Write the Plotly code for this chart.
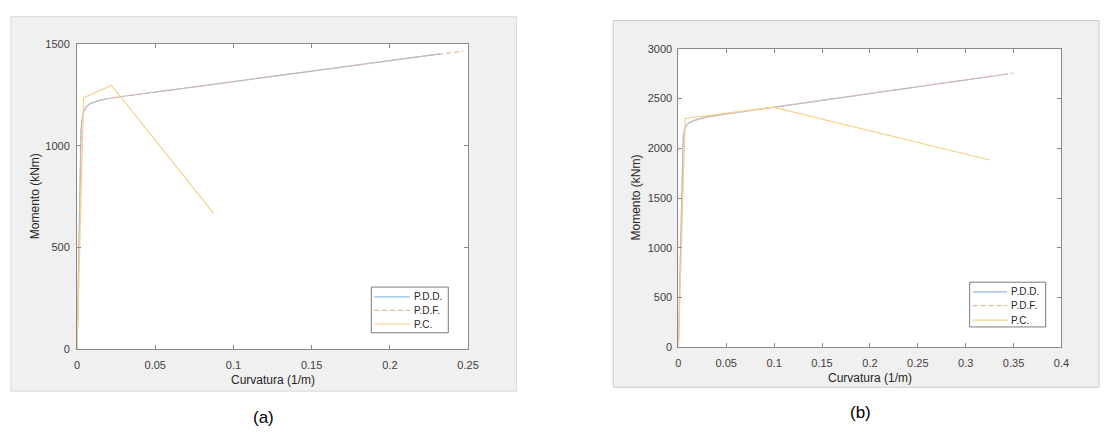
import plotly.graph_objects as go

# Moment-curvature curves, panel (a)
curv_pdd_a = [0, 0.0005, 0.001, 0.0015, 0.002, 0.0025, 0.003, 0.004, 0.005, 0.006,
              0.008, 0.010, 0.015, 0.02, 0.03, 0.05, 0.1, 0.15, 0.2, 0.232]
mom_pdd_a = [0, 230, 460, 690, 920, 1060, 1120, 1160, 1180, 1192,
             1205, 1212, 1224, 1232, 1243, 1264, 1315, 1366, 1418, 1451]
curv_pdf_a = [0, 0.0005, 0.001, 0.0015, 0.002, 0.0025, 0.003, 0.004, 0.005, 0.006,
              0.008, 0.010, 0.015, 0.02, 0.03, 0.05, 0.1, 0.15, 0.2, 0.247]
mom_pdf_a = [0, 230, 460, 690, 920, 1060, 1120, 1160, 1180, 1192,
             1205, 1212, 1224, 1232, 1243, 1264, 1315, 1366, 1418, 1465]
curv_pc_a = [0, 0.0042, 0.0221, 0.0873]
mom_pc_a = [0, 1236, 1296, 668]

# Moment-curvature curves, panel (b)
curv_pdd_b = [0, 0.001, 0.002, 0.003, 0.004, 0.005, 0.006, 0.008, 0.010, 0.015,
              0.02, 0.03, 0.05, 0.1, 0.15, 0.2, 0.25, 0.3, 0.344]
mom_pdd_b = [0, 450, 900, 1340, 1800, 2100, 2180, 2225, 2250, 2275,
             2290, 2315, 2345, 2414, 2482, 2550, 2619, 2687, 2747]
curv_pdf_b = [0, 0.001, 0.002, 0.003, 0.004, 0.005, 0.006, 0.008, 0.010, 0.015,
              0.02, 0.03, 0.05, 0.1, 0.15, 0.2, 0.25, 0.3, 0.350]
mom_pdf_b = [0, 450, 900, 1340, 1800, 2100, 2180, 2225, 2250, 2275,
             2290, 2315, 2345, 2414, 2482, 2550, 2619, 2687, 2756]
curv_pc_b = [0, 0.0072, 0.099, 0.325]
mom_pc_b = [0, 2300, 2414, 1883]

series_names = ["P.D.D.", "P.D.F.", "P.C."]

xticks_a = [0, 0.05, 0.1, 0.15, 0.2, 0.25]
xticklabels_a = ["0", "0.05", "0.1", "0.15", "0.2", "0.25"]
yticks_a = [0, 500, 1000, 1500]
xticks_b = [0, 0.05, 0.1, 0.15, 0.2, 0.25, 0.3, 0.35, 0.4]
xticklabels_b = ["0", "0.05", "0.1", "0.15", "0.2", "0.25", "0.3", "0.35", "0.4"]
yticks_b = [0, 500, 1000, 1500, 2000, 2500, 3000]

W, H = 1109, 437
C_BLUE = "#94bde3"
C_ORANGE = "#eeb39b"
C_YELLOW = "#f6d189"
SERIES_STYLE = [
    dict(color=C_BLUE, width=1.2),
    dict(color=C_ORANGE, width=1.2, dash="5px,3px"),
    dict(color=C_YELLOW, width=1.2),
]
FONT = "Liberation Sans, Arial, sans-serif"
TICK_COLOR = "#404040"
FRAME = "#8a8a8a"


def px(x):
    return x / W


def py(y):
    return 1 - y / H


fig = go.Figure()

panels = [
    ((curv_pdd_a, mom_pdd_a), (curv_pdf_a, mom_pdf_a), (curv_pc_a, mom_pc_a), "x", "y"),
    ((curv_pdd_b, mom_pdd_b), (curv_pdf_b, mom_pdf_b), (curv_pc_b, mom_pc_b), "x2", "y2"),
]
for d, f, c, xa, ya in panels:
    for (cx, my), name, style in zip((d, f, c), series_names, SERIES_STYLE):
        fig.add_trace(go.Scatter(x=cx, y=my, mode="lines", name=name, line=style,
                                 xaxis=xa, yaxis=ya, showlegend=False))

axis_common = dict(
    showline=True, linecolor=FRAME, linewidth=1, mirror="ticks",
    ticks="inside", ticklen=4, tickcolor=FRAME, tickwidth=1,
    showgrid=False, zeroline=False,
    tickfont=dict(family=FONT, size=11, color=TICK_COLOR),
)

fig.update_layout(
    width=W, height=H,
    margin=dict(l=0, r=0, t=0, b=0),
    paper_bgcolor="white", plot_bgcolor="white",
    xaxis=dict(domain=[px(75), px(471)], range=[0, 0.25], tickvals=xticks_a,
               ticktext=xticklabels_a, anchor="y", ticklabelstandoff=5, **axis_common),
    yaxis=dict(domain=[py(353), py(39)], range=[0, 1500], tickvals=yticks_a,
               anchor="x", ticklabelstandoff=4, **axis_common),
    xaxis2=dict(domain=[px(684), px(1072)], range=[0, 0.4], tickvals=xticks_b,
                ticktext=xticklabels_b, anchor="y2", ticklabelstandoff=5, **axis_common),
    yaxis2=dict(domain=[py(351), py(44)], range=[0, 3000], tickvals=yticks_b,
                anchor="x2", ticklabelstandoff=3, **axis_common),
    showlegend=False,
)

# Grey figure backgrounds with white axes areas on top
fig.add_shape(type="rect", xref="paper", yref="paper", x0=px(8), x1=px(520),
              y0=py(396), y1=py(11), fillcolor="#f0f0f0",
              line=dict(color="#d8d8d8", width=1), layer="below")
fig.add_shape(type="rect", xref="paper", yref="paper", x0=px(618), x1=px(1110),
              y0=py(392), y1=py(15), fillcolor="#f0f0f0",
              line=dict(color="#c8c8c8", width=1), layer="below")
for xr, yr in (("x", "y"), ("x2", "y2")):
    fig.add_shape(type="rect", xref=f"{xr} domain", yref=f"{yr} domain",
                  x0=0, x1=1, y0=0, y1=1, fillcolor="white",
                  line=dict(width=0), layer="below")

# Legend boxes: (box left, box top, box right, box bottom, sample x0, sample x1, row ys)
legend_boxes = [
    (373, 289, 451, 336, 376, 412, [299, 313, 327]),
    (979, 284, 1056, 330, 982, 1017, [294, 308, 323]),
]
for bx0, by0, bx1, by1, sx0, sx1, rows in legend_boxes:
    fig.add_shape(type="rect", xref="paper", yref="paper",
                  x0=px(bx0), x1=px(bx1), y0=py(by1), y1=py(by0),
                  fillcolor="white", line=dict(color="#7a7a7a", width=1), layer="above")
    for name, style, ry in zip(series_names, SERIES_STYLE, rows):
        fig.add_shape(type="line", xref="paper", yref="paper",
                      x0=px(sx0), x1=px(sx1), y0=py(ry), y1=py(ry),
                      line=style, layer="above")
        fig.add_annotation(text=name, x=px(sx1 + 2), y=py(ry), xref="paper", yref="paper",
                           showarrow=False, xanchor="left", yanchor="middle",
                           font=dict(family=FONT, size=10, color="#262626"))

annos = [
    ("Curvatura (1/m)", 273, 385, 0, 12),
    ("Momento (kNm)", 32, 196, -90, 12),
    ("Curvatura (1/m)", 878, 382, 0, 12),
    ("Momento (kNm)", 641, 197, -90, 12),
    ("(a)", 264, 423, 0, 17),
    ("(b)", 868, 418, 0, 17),
]
for text, x, y, ang, size in annos:
    fig.add_annotation(text=text, x=px(x), y=py(y), xref="paper", yref="paper",
                       showarrow=False, textangle=ang, xanchor="center", yanchor="middle",
                       font=dict(family=FONT, size=size,
                                 color="#262626" if size < 14 else "#000000"))

fig.write_html("out.html")
